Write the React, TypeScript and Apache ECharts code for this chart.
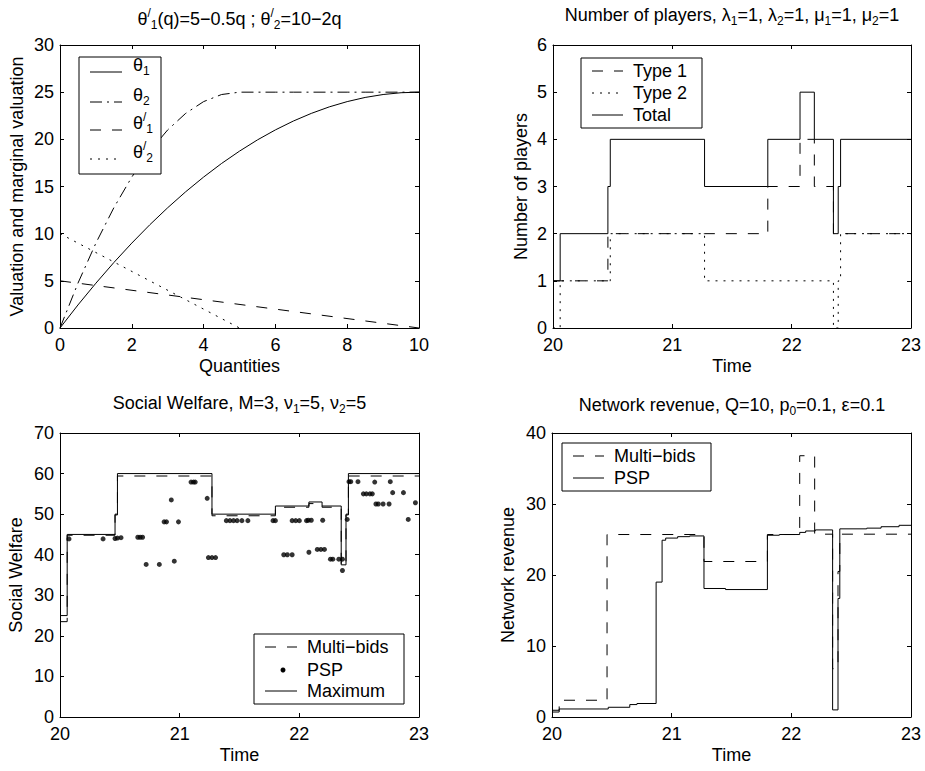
import React, { useEffect, useRef } from "react";
import * as echarts from "echarts";

// ---------- data ----------
// Top-left: valuation and marginal valuation vs quantity
const quantities = [0, 0.5, 1, 1.5, 2, 2.5, 3, 3.5, 4, 4.5, 5, 5.5, 6, 6.5, 7, 7.5, 8, 8.5, 9, 9.5, 10];
const theta1 = [0, 2.44, 4.75, 6.94, 9.0, 10.94, 12.75, 14.44, 16.0, 17.44, 18.75, 19.94, 21.0, 21.94, 22.75, 23.44, 24.0, 24.44, 24.75, 24.94, 25.0];
const theta2 = [0, 4.75, 9.0, 12.75, 16.0, 18.75, 21.0, 22.75, 24.0, 24.75, 25, 25, 25, 25, 25, 25, 25, 25, 25, 25, 25];
const dTheta1Q = [0, 10];
const dTheta1 = [5, 0];
const dTheta2Q = [0, 5];
const dTheta2 = [10, 0];

// Top-right: number of players (step functions)
const playerTimes = [20, 20.06, 20.46, 20.48, 21.27, 21.8, 22.07, 22.19, 22.35, 22.39, 22.41, 23];
const type1Players = [1, 1, 2, 2, 2, 3, 4, 3, 2, 2, 2, 2];
const type2Players = [0, 1, 1, 2, 1, 1, 1, 1, 0, 1, 2, 2];
const totalPlayers = [1, 2, 3, 4, 3, 4, 5, 4, 2, 3, 4, 4];

// Bottom-left: social welfare
const welfareTimes = [20, 20.06, 20.46, 20.48, 21.27, 21.8, 22.08, 22.19, 22.35, 22.39, 22.41, 23];
const maxWelfare = [25, 45, 50, 60, 50, 52, 53, 52, 37.5, 50, 60, 60];
const multiWelfare = [23.5, 44.8, 49.8, 59.4, 49.6, 51.7, 52.6, 51.7, 37.3, 49.8, 59.4, 59.4];
const pspWelfareTimes = [20.075, 20.36, 20.46, 20.48, 20.51, 20.65, 20.67, 20.69, 20.72, 20.83, 20.87, 20.89, 20.93, 20.955, 20.99, 21.095, 21.115, 21.13, 21.23, 21.24, 21.27, 21.3, 21.39, 21.42, 21.45, 21.48, 21.52, 21.57, 21.78, 21.8, 21.87, 21.9, 21.94, 21.94, 21.97, 22.0, 22.06, 22.075, 22.1, 22.08, 22.15, 22.18, 22.21, 22.195, 22.26, 22.28, 22.33, 22.36, 22.36, 22.4, 22.415, 22.43, 22.49, 22.535, 22.56, 22.59, 22.61, 22.63, 22.64, 22.66, 22.7, 22.75, 22.76, 22.78, 22.87, 22.91, 22.97];
const pspWelfare = [43.9, 43.9, 44.0, 44.1, 44.2, 44.3, 44.3, 44.3, 37.6, 37.6, 48.1, 48.1, 53.5, 38.4, 48.1, 57.9, 57.9, 57.9, 53.9, 39.3, 39.3, 39.3, 48.4, 48.4, 48.4, 48.4, 48.4, 48.4, 48.4, 48.4, 40.0, 40.0, 40.0, 48.4, 48.4, 48.4, 48.4, 48.5, 48.5, 40.6, 41.3, 41.3, 41.3, 48.5, 38.9, 38.9, 38.9, 38.9, 36.1, 48.7, 58.0, 58.0, 58.0, 55.0, 55.0, 55.0, 55.0, 57.9, 52.5, 52.5, 52.5, 52.5, 58.0, 55.3, 55.3, 48.7, 52.8];

// Bottom-right: network revenue
const multiRevTimes = [20, 20.06, 20.46, 21.27, 21.8, 22.07, 22.195, 22.345, 22.39, 22.405, 23];
const multiRevenue = [0.95, 2.36, 25.7, 21.9, 25.7, 36.8, 25.75, 6.8, 20.5, 25.75, 25.75];
const pspRevTimes = [20, 20.06, 20.47, 20.65, 20.71, 20.87, 20.92, 20.95, 21.05, 21.15, 21.27, 21.45, 21.8, 21.9, 22.07, 22.12, 22.2, 22.345, 22.39, 22.405, 22.63, 22.75, 22.9, 23];
const pspRevenue = [0.7, 1.13, 1.37, 1.75, 1.9, 19.0, 24.9, 25.2, 25.4, 25.5, 18.1, 17.95, 25.6, 25.7, 26.0, 26.2, 26.35, 1.0, 16.7, 26.5, 26.6, 26.8, 27.0, 27.0];

// ---------- styles ----------
const FONT = "'Liberation Sans', Arial, Helvetica, sans-serif";
const FS = 18;
const DASH = [11, 11];
const DOT = [2, 6];
const DASHDOT = [12, 5, 2, 5];

const pairs = (xs: number[], ys: number[]) => xs.map((x, i) => [x, ys[i]]);

const richStyles = {
  s: { fontSize: 12, lineHeight: 8, verticalAlign: "bottom", fontFamily: FONT, color: "#000" },
  p: { fontSize: 12, lineHeight: 8, verticalAlign: "top", fontFamily: FONT, color: "#000" },
};

const grids = [
  { left: 60, top: 45, width: 359, height: 283 },
  { left: 553, top: 45, width: 358, height: 283 },
  { left: 60, top: 433, width: 359, height: 284 },
  { left: 552, top: 433, width: 359, height: 284 },
];

function axes(gi: number, xmin: number, xmax: number, xint: number, ymin: number, ymax: number, yint: number, xname: string, yname: string, yGap: number) {
  const line = { onZero: false, lineStyle: { color: "#000", width: 1 } };
  const tick = { inside: true, length: 4, lineStyle: { color: "#000", width: 1 } };
  const label = { color: "#000", fontSize: FS, fontFamily: FONT };
  const nameStyle = { color: "#000", fontSize: FS, fontFamily: FONT };
  const x = [
    { gridIndex: gi, type: "value", min: xmin, max: xmax, interval: xint, position: "bottom", axisLine: line, axisTick: tick, axisLabel: { ...label, margin: 8 }, splitLine: { show: false }, name: xname, nameLocation: "middle", nameGap: 29, nameTextStyle: nameStyle },
    { gridIndex: gi, type: "value", min: xmin, max: xmax, interval: xint, position: "top", axisLine: line, axisTick: tick, axisLabel: { show: false }, splitLine: { show: false } },
  ];
  const y = [
    { gridIndex: gi, type: "value", min: ymin, max: ymax, interval: yint, position: "left", axisLine: line, axisTick: tick, axisLabel: { ...label, margin: 6 }, splitLine: { show: false }, name: yname, nameLocation: "middle", nameGap: yGap, nameTextStyle: nameStyle },
    { gridIndex: gi, type: "value", min: ymin, max: ymax, interval: yint, position: "right", axisLine: line, axisTick: tick, axisLabel: { show: false }, splitLine: { show: false } },
  ];
  return { x, y };
}

function lineSeries(name: string, gi: number, data: number[][], dash: any, step?: string) {
  return {
    name,
    type: "line",
    xAxisIndex: gi * 2,
    yAxisIndex: gi * 2,
    data,
    step: step || false,
    showSymbol: false,
    symbol: "none",
    lineStyle: { color: "#000", width: 1, type: dash },
    silent: true,
  };
}

function legendBox(x1: number, y1: number, x2: number, y2: number) {
  return { type: "rect", z: 100, shape: { x: x1, y: y1, width: x2 - x1, height: y2 - y1 }, style: { fill: "#fff", stroke: "#000", lineWidth: 1 } };
}
function legendLine(x1: number, x2: number, y: number, dash: any) {
  return { type: "line", z: 101, shape: { x1, y1: y, x2, y2: y }, style: { stroke: "#000", lineWidth: 1, lineDash: dash } };
}
function legendText(x: number, y: number, text: string) {
  return {
    type: "text",
    z: 101,
    x,
    y,
    style: {
      text,
      fill: "#000",
      fontSize: FS,
      fontFamily: FONT,
      lineHeight: 24,
      align: "left",
      textAlign: "left",
      verticalAlign: "middle",
      textVerticalAlign: "middle",
      rich: richStyles,
    },
  };
}

function titleAt(text: string, cx: number, top: number) {
  return {
    text,
    left: cx,
    top,
    textAlign: "center",
    padding: 0,
    textStyle: { color: "#000", fontSize: FS, fontWeight: "normal", fontFamily: FONT, lineHeight: 24, rich: richStyles },
  };
}

export default function App() {
  const ref = useRef<HTMLDivElement>(null);
  useEffect(() => {
    if (!ref.current) return;
    const chart = echarts.init(ref.current, null, { renderer: "svg" });
    const a0 = axes(0, 0, 10, 2, 0, 30, 5, "Quantities", "Valuation and marginal valuation", 34);
    const a1 = axes(1, 20, 23, 1, 0, 6, 1, "Time", "Number of players", 23);
    const a2 = axes(2, 20, 23, 1, 0, 70, 10, "Time", "Social Welfare", 35);
    const a3 = axes(3, 20, 23, 1, 0, 40, 10, "Time", "Network revenue", 35);

    const option: any = {
      animation: false,
      backgroundColor: "#fff",
      textStyle: { fontFamily: FONT, color: "#000" },
      title: [
        titleAt("θ{p|/}{s|1}(q)=5−0.5q ; θ{p|/}{s|2}=10−2q", 239.5, 7),
        titleAt("Number of players, λ{s|1}=1, λ{s|2}=1, μ{s|1}=1, μ{s|2}=1", 732, 3),
        titleAt("Social Welfare, M=3, ν{s|1}=5, ν{s|2}=5", 239.5, 391),
        titleAt("Network revenue, Q=10, p{s|0}=0.1, ε=0.1", 732, 393),
      ],
      grid: grids,
      xAxis: [...a0.x, ...a1.x, ...a2.x, ...a3.x],
      yAxis: [...a0.y, ...a1.y, ...a2.y, ...a3.y],
      series: [
        lineSeries("θ1", 0, pairs(quantities, theta1), "solid"),
        lineSeries("θ2", 0, pairs(quantities, theta2), DASHDOT),
        lineSeries("θ'1", 0, pairs(dTheta1Q, dTheta1), DASH),
        lineSeries("θ'2", 0, pairs(dTheta2Q, dTheta2), DOT),

        lineSeries("Type 1", 1, pairs(playerTimes, type1Players), DASH, "end"),
        lineSeries("Type 2", 1, pairs(playerTimes, type2Players), DOT, "end"),
        lineSeries("Total", 1, pairs(playerTimes, totalPlayers), "solid", "end"),

        lineSeries("Multi-bids", 2, pairs(welfareTimes, multiWelfare), DASH, "end"),
        {
          name: "PSP",
          type: "scatter",
          xAxisIndex: 4,
          yAxisIndex: 4,
          data: pairs(pspWelfareTimes, pspWelfare),
          symbol: "circle",
          symbolSize: 5,
          itemStyle: { color: "#000" },
          silent: true,
        },
        lineSeries("Maximum", 2, pairs(welfareTimes, maxWelfare), "solid", "end"),

        lineSeries("Multi-bids", 3, pairs(multiRevTimes, multiRevenue), DASH, "end"),
        lineSeries("PSP", 3, pairs(pspRevTimes, pspRevenue), "solid", "end"),
      ],
      graphic: [
        // top-left legend
        legendBox(79, 57, 161, 174),
        legendLine(90, 122, 72, null),
        legendText(133, 65, "θ{s|1}"),
        legendLine(90, 122, 102, DASHDOT),
        legendText(133, 95, "θ{s|2}"),
        legendLine(90, 122, 130, DASH),
        legendText(133, 123, "θ{p|/}{s|1}"),
        legendLine(90, 122, 159, DOT),
        legendText(133, 152, "θ{p|/}{s|2}"),
        // top-right legend
        legendBox(581, 58, 702, 128),
        legendLine(592, 623, 71, DASH),
        legendText(633, 71, "Type 1"),
        legendLine(592, 623, 93, DOT),
        legendText(633, 93, "Type 2"),
        legendLine(592, 623, 115, null),
        legendText(633, 115, "Total"),
        // bottom-left legend
        legendBox(254, 634, 404, 704),
        legendLine(265, 297, 647, DASH),
        legendText(307, 647, "Multi−bids"),
        { type: "circle", z: 101, shape: { cx: 283, cy: 670, r: 2.5 }, style: { fill: "#000" } },
        legendText(307, 670, "PSP"),
        legendLine(265, 297, 691, null),
        legendText(307, 691, "Maximum"),
        // bottom-right legend
        legendBox(562, 443, 711, 491),
        legendLine(573, 604, 456, DASH),
        legendText(614, 456, "Multi−bids"),
        legendLine(573, 604, 478, null),
        legendText(614, 478, "PSP"),
      ],
    };
    chart.setOption(option);
    return () => chart.dispose();
  }, []);
  return <div ref={ref} style={{ position: "absolute", left: 0, top: 0, width: 925, height: 771, background: "#fff" }} />;
}
